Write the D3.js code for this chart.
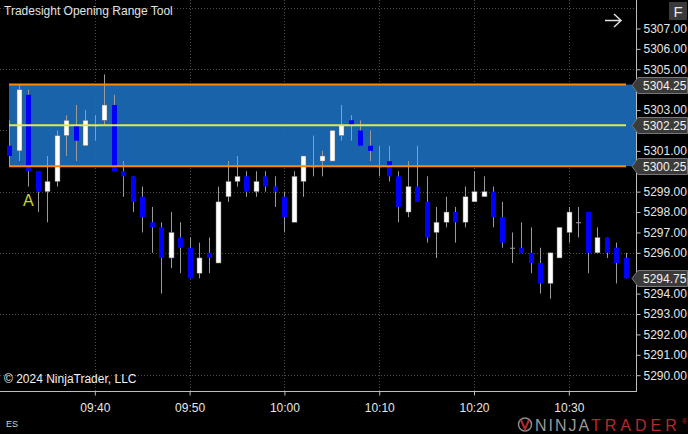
<!DOCTYPE html>
<html>
<head>
    <meta charset="utf-8" />
    <title>Tradesight Opening Range Tool</title>
    <script src="https://cdn.jsdelivr.net/npm/d3@7" charset="utf-8"></script>
    <style>
        html, body { margin:0; padding:0; background:#000; overflow:hidden; }
        text { font-family: "Liberation Sans", Arial, sans-serif; }
    </style>
</head>
<body>
</body>
<script charset="utf-8">

    var width = 688;
    var height = 434;

    // 1 minute bars, ES
    var times = ["09:31","09:32","09:33","09:34","09:35","09:36","09:37","09:38","09:39","09:40",
                 "09:41","09:42","09:43","09:44","09:45","09:46","09:47","09:48","09:49","09:50",
                 "09:51","09:52","09:53","09:54","09:55","09:56","09:57","09:58","09:59","10:00",
                 "10:01","10:02","10:03","10:04","10:05","10:06","10:07","10:08","10:09","10:10",
                 "10:11","10:12","10:13","10:14","10:15","10:16","10:17","10:18","10:19","10:20",
                 "10:21","10:22","10:23","10:24","10:25","10:26","10:27","10:28","10:29","10:30",
                 "10:31","10:32","10:33","10:34","10:35","10:36"];
    var opens  = [5301.25,5301.00,5303.75,5300.00,5299.00,5299.50,5301.75,5302.25,5301.25,5302.25,
                  5302.50,5303.25,5300.00,5299.75,5298.75,5297.50,5297.25,5295.75,5296.75,5296.25,
                  5295.00,5296.00,5295.50,5298.75,5299.50,5299.75,5299.00,5299.75,5299.25,5298.75,
                  5297.50,5299.50,5300.25,5300.50,5300.50,5301.75,5302.50,5302.00,5301.25,5300.25,
                  5300.50,5299.75,5298.00,5299.25,5298.50,5297.00,5297.50,5298.00,5297.50,5298.50,
                  5298.75,5299.00,5297.75,5296.25,5296.25,5296.00,5295.50,5294.50,5295.75,5297.00,
                  5297.50,5298.00,5296.00,5296.75,5296.25,5295.75];
    var highs  = [5302.50,5304.25,5304.00,5300.00,5300.75,5302.00,5302.75,5303.25,5303.00,5302.75,
                  5304.75,5303.75,5300.50,5299.75,5299.25,5298.25,5297.50,5298.00,5297.50,5296.75,
                  5296.50,5296.75,5299.25,5300.50,5300.75,5300.00,5300.00,5300.00,5299.75,5299.00,
                  5300.00,5300.75,5301.75,5301.00,5302.00,5303.25,5302.75,5302.50,5302.00,5301.25,
                  5301.25,5300.00,5300.50,5301.25,5299.75,5298.25,5298.75,5298.25,5299.25,5300.00,
                  5299.75,5299.25,5298.50,5297.00,5297.50,5297.25,5296.25,5296.00,5297.25,5298.25,
                  5298.25,5298.00,5297.25,5296.75,5296.50,5296.00];
    var lows   = [5300.25,5300.50,5299.25,5298.00,5297.50,5299.25,5300.75,5300.50,5301.25,5301.50,
                  5302.25,5300.00,5298.75,5298.00,5297.00,5296.00,5294.00,5295.25,5295.00,5294.75,
                  5294.75,5295.00,5295.50,5298.50,5299.25,5298.75,5298.75,5299.00,5298.25,5297.00,
                  5297.50,5298.75,5299.75,5299.75,5300.50,5301.50,5301.50,5301.25,5300.50,5299.75,
                  5299.50,5297.50,5297.75,5298.50,5296.50,5295.75,5297.25,5296.50,5297.25,5298.50,
                  5298.75,5297.25,5296.25,5295.50,5296.00,5295.00,5294.00,5293.75,5295.75,5296.50,
                  5296.75,5295.00,5296.00,5295.75,5294.50,5294.75];
    var closes = [5300.75,5304.00,5300.00,5299.00,5299.50,5301.75,5302.50,5301.50,5302.50,5302.25,
                  5303.25,5300.00,5299.75,5298.50,5297.75,5297.25,5295.75,5297.00,5296.25,5294.75,
                  5295.75,5295.75,5298.50,5299.50,5299.75,5299.00,5299.50,5299.25,5299.00,5297.75,
                  5299.75,5300.75,5300.25,5300.75,5302.00,5302.25,5302.25,5301.25,5301.00,5300.25,
                  5299.75,5298.25,5299.25,5298.50,5296.75,5297.50,5298.00,5297.50,5298.75,5299.00,
                  5299.00,5297.75,5296.50,5296.25,5296.00,5295.50,5294.50,5296.00,5297.25,5298.00,
                  5297.50,5296.00,5296.75,5296.00,5295.50,5294.75];

    // opening range
    var rangeHigh = 5304.25;
    var rangeMid = 5302.25;
    var rangeLow = 5300.25;
    var lastPrice = 5294.75;

    var timeTicks = ["09:40","09:50","10:00","10:10","10:20","10:30"];
    var priceTicks = [5290,5291,5292,5293,5294,5295,5296,5297,5298,5299,5300,5301,5302,5303,5304,5305,5306,5307];
    var gridPrices = [5290,5293,5296,5299,5302,5305,5308];

    var parseTime = d3.timeParse('%H:%M');
    var bars = times.map(function(t,i){
        return { t: parseTime(t), o: opens[i], h: highs[i], l: lows[i], c: closes[i] };
    });

    var plotRight = 636;
    var plotBottom = 391;

    var svg = d3.select('body').append('svg').attr('width',width).attr('height',height).style('display','block');
    svg.append('rect').attr('width',width).attr('height',height).attr('fill','#000');

    var x = d3.scaleTime().domain([parseTime('09:30'), parseTime('10:37')]).range([0, 635.2]);
    var y = d3.scaleLinear().domain([5290, 5307]).range([375.2, 28.5]);

    // grid
    var gGrid = svg.append('g');
    gGrid.selectAll('.hgrid').data(gridPrices).enter().append('line').attr('class','hgrid')
        .attr('x1',0).attr('x2',plotRight)
        .attr('y1',function(d){ return Math.round(y(d)) + 0.5; })
        .attr('y2',function(d){ return Math.round(y(d)) + 0.5; })
        .attr('stroke','#4a4a4a').attr('stroke-dasharray','1,2');
    gGrid.selectAll('.vgrid').data(timeTicks).enter().append('line').attr('class','vgrid')
        .attr('x1',function(d){ return Math.round(x(parseTime(d))) + 0.5; })
        .attr('x2',function(d){ return Math.round(x(parseTime(d))) + 0.5; })
        .attr('y1',0).attr('y2',plotBottom)
        .attr('stroke','#4a4a4a').attr('stroke-dasharray','1,2');

    // opening range box
    var boxLeft = Math.round(x(bars[0].t));
    var lineRight = Math.round(x(bars[bars.length-1].t));
    svg.append('rect').attr('x',boxLeft).attr('y',y(rangeHigh))
        .attr('width',plotRight - boxLeft).attr('height',y(rangeLow) - y(rangeHigh))
        .attr('fill','#1b6ab8').attr('opacity',0.93);

    // candles
    var bw = 5;
    var gBars = svg.append('g');
    gBars.selectAll('.wick').data(bars).enter().append('line').attr('class','wick')
        .attr('x1',function(d){ return Math.round(x(d.t)) + 0.5; })
        .attr('x2',function(d){ return Math.round(x(d.t)) + 0.5; })
        .attr('y1',function(d){ return y(d.h); })
        .attr('y2',function(d){ return y(d.l); })
        .attr('stroke','#9a9a9a').attr('stroke-width',1);
    gBars.selectAll('.body').data(bars).enter().append('rect').attr('class','body')
        .attr('x',function(d){ return Math.round(x(d.t)) - 2; })
        .attr('width',bw)
        .attr('y',function(d){ return y(Math.max(d.o,d.c)); })
        .attr('height',function(d){ return Math.max(1, Math.abs(y(d.o) - y(d.c))); })
        .attr('fill',function(d){
            if(d.c > d.o) return '#ffffff';
            if(d.c < d.o) return '#0000ff';
            return '#9a9a9a';
        })
        .attr('stroke',function(d){ return d.c > d.o ? '#6a6a6a' : 'none'; })
        .attr('stroke-width',0.5);

    // range lines
    var rangeLines = [
        { p: rangeHigh, color: '#ff8a00' },
        { p: rangeLow, color: '#ff8a00' },
        { p: rangeMid, color: '#dfe94e' }
    ];
    svg.selectAll('.rline').data(rangeLines).enter().append('line').attr('class','rline')
        .attr('x1',boxLeft).attr('x2',lineRight)
        .attr('y1',function(d){ return y(d.p); }).attr('y2',function(d){ return y(d.p); })
        .attr('stroke',function(d){ return d.color; }).attr('stroke-width',2);

    // "A" marker
    svg.append('text').attr('x',x(bars[2].t)).attr('y',206).attr('text-anchor','middle')
        .attr('fill','#c8d62c').attr('font-size',16).text('A');

    // price flags (drawn over the axis labels they cover)
    var flags = [rangeHigh, rangeMid, rangeLow, lastPrice];

    // price axis
    var yAxis = d3.axisRight(y).tickValues(priceTicks).tickFormat(d3.format('.2f')).tickSize(4).tickPadding(3);
    var gY = svg.append('g').attr('transform','translate(' + (plotRight + 0.5) + ',0)').call(yAxis);
    gY.select('.domain').remove();
    gY.selectAll('.tick line').attr('stroke','#bdbdbd');
    gY.selectAll('.tick text').attr('fill','#e6e6e6').attr('font-size',12)
        .style('font-family','"Liberation Sans", Arial, sans-serif')
        .filter(function(d){ // labels hidden behind a flag
            return flags.some(function(f){ return Math.abs(f - d) < 0.5; });
        }).remove();
    svg.append('line').attr('x1',plotRight + 0.5).attr('x2',plotRight + 0.5).attr('y1',0).attr('y2',plotBottom)
        .attr('stroke','#bdbdbd');

    // time axis
    var xAxis = d3.axisBottom(x).tickValues(timeTicks.map(parseTime)).tickFormat(d3.timeFormat('%H:%M'))
        .tickSize(4).tickSizeOuter(0).tickPadding(8);
    var gX = svg.append('g').attr('transform','translate(0,' + (plotBottom + 0.5) + ')').call(xAxis);
    gX.select('.domain').remove();
    gX.selectAll('.tick line').attr('stroke','#bdbdbd');
    gX.selectAll('.tick text').attr('fill','#e6e6e6').attr('font-size',12)
        .style('font-family','"Liberation Sans", Arial, sans-serif');
    svg.append('line').attr('x1',0).attr('x2',plotRight + 1).attr('y1',plotBottom + 0.5).attr('y2',plotBottom + 0.5)
        .attr('stroke','#bdbdbd');

    var gFlags = svg.append('g');
    gFlags.selectAll('.flag').data(flags).enter().append('path').attr('class','flag')
        .attr('d',function(d){
            var c = Math.round(y(d)) + 0.5;
            return 'M' + 632 + ',' + c + 'L638,' + (c-8) + 'L687.5,' + (c-8) + 'L687.5,' + (c+8) + 'L638,' + (c+8) + 'Z';
        })
        .attr('fill','#3b3b3b').attr('stroke','#777');
    gFlags.selectAll('.flagText').data(flags).enter().append('text').attr('class','flagText')
        .attr('x',643).attr('y',function(d){ return Math.round(y(d)) + 5; })
        .attr('fill','#f2f2f2').attr('font-size',12).text(d3.format('.2f'));

    // title, copyright, instrument
    svg.append('text').attr('x',4).attr('y',15).attr('fill','#e2e2e2').attr('font-size',12)
        .text('Tradesight Opening Range Tool');
    svg.append('text').attr('x',4).attr('y',383).attr('fill','#f0f0f0').attr('font-size',12)
        .text('\u00a9 2024 NinjaTrader, LLC');
    svg.append('text').attr('x',6).attr('y',427).attr('fill','#d0d0d0').attr('font-size',9).text('ES');

    // "F" button and arrow
    svg.append('rect').attr('x',669).attr('y',2).attr('width',18).attr('height',18).attr('fill','#3a3a3a');
    svg.append('text').attr('x',678).attr('y',17).attr('text-anchor','middle').attr('fill','#e8e8e8')
        .attr('font-size',15).text('F');
    svg.append('path').attr('d','M605,20.5H621M614,14L621,20.5L614,27').attr('fill','none')
        .attr('stroke','#e0e0e0').attr('stroke-width',1.5);

    // NinjaTrader logo
    var gLogo = svg.append('g');
    gLogo.append('circle').attr('cx',525).attr('cy',424.5).attr('r',6.5).attr('fill','none')
        .attr('stroke','#8a8a8a').attr('stroke-width',1.5);
    gLogo.append('path').attr('d','M521,420L525,429L529,420').attr('fill','none')
        .attr('stroke','#b22a2a').attr('stroke-width',2);
    gLogo.append('text').attr('x',535).attr('y',431).attr('fill','#9a9a9a').attr('font-size',16)
        .attr('letter-spacing',2).text('NINJA');
    gLogo.append('text').attr('x',591).attr('y',431).attr('fill','#b8282c').attr('font-size',16)
        .attr('letter-spacing',4).text('TRADER');
    gLogo.append('text').attr('x',682).attr('y',424).attr('fill','#b8282c').attr('font-size',7).text('\u00ae');

</script>
</html>
